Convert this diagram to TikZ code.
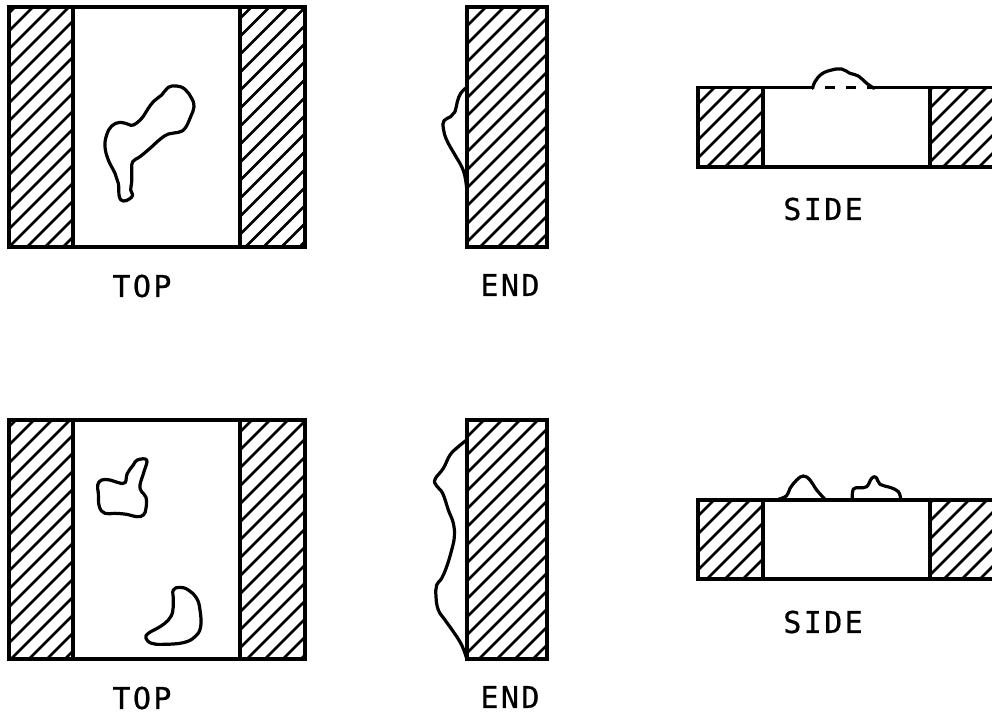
\documentclass[tikz,border=0pt]{standalone}
\usepackage{fontspec}
\newfontfamily\labelfont[LetterSpace=8,FakeBold=0.6]{DejaVu Sans Mono}
\newcommand{\hatchbox}[5]{% x0,y0,x1,y1,phase
  \begin{scope}
    \clip (#1,#2) rectangle (#3,#4);
    \foreach \k in {0,...,30}{
      \pgfmathsetmacro{\cc}{#5+18*\k}
      \draw[hatch] (#1,\cc-#1) -- (#1+400,\cc-#1-400);
    }
  \end{scope}}
\newcommand{\blockview}[8]{% x0,x1,x2,x3,ytop,ybot,phaseL,phaseR
  \hatchbox{#1}{#5}{#2}{#6}{#7}
  \hatchbox{#3}{#5}{#4}{#6}{#8}
  \draw[frame] (#1,#5) rectangle (#4,#6);
  \draw[frame] (#2,#5) -- (#2,#6);
  \draw[frame] (#3,#5) -- (#3,#6);}
\tikzset{
  frame/.style={line width=3.2pt,line join=miter},
  hatch/.style={line width=2.7pt},
  blob/.style={line width=3.2pt,line join=round,line cap=round,tension=0.7},
  viewlabel/.style={font=\labelfont\fontsize{30}{30}\selectfont,inner sep=0pt,anchor=center}
}
\begin{document}
\begin{tikzpicture}[x=1pt,y=-1pt]
\useasboundingbox (0,0) rectangle (992,715);
\fill[white] (0,0) rectangle (992,715);
% upper row
\blockview{9}{73}{240}{305}{7}{247}{22}{240.5}
\hatchbox{467}{7}{547}{247}{475}
\draw[frame] (467,7) rectangle (547,247);
\hatchbox{698}{87.5}{763}{167}{784}
\hatchbox{930}{87.5}{995}{167}{1020}
\draw[frame] (763,87.5) -- (763,167);
\draw[frame] (930,87.5) -- (930,167);
\draw[frame] (995,167) -- (698,167) -- (698,87.5) -- (812,87.5);
\draw[frame] (867,87.5) -- (995,87.5);
\draw[frame] (825,87.5) -- (835,87.5);
\draw[frame] (846,87.5) -- (856,87.5);
\begin{scope}[scale=1/3]
\draw[blob] plot[smooth cycle] coordinates {(400,375)(425,355)(445,325)(462,303)(485,285)(505,262)(530,258)(555,268)(575,295)(582,320)(572,350)(555,385)(535,397)(505,402)(480,418)(450,445)(420,470)(398,485)(395,510)(395,545)(392,570)(398,585)(388,597)(370,603)(358,590)(355,550)(345,520)(325,480)(315,440)(320,405)(335,378)(360,367)(385,373)};
\end{scope}
\begin{scope}[shift={(420,0)},scale=1/3]
\draw[blob] plot[smooth] coordinates {(140,262)(122,280)(112,305)(105,335)(92,350)(72,362)(70,385)(80,420)(105,465)(125,500)(135,530)(140,565)};
\end{scope}
\begin{scope}[shift={(690,60)},scale=1/3]
\draw[blob] plot[smooth] coordinates {(368,85)(375,65)(395,42)(425,30)(455,27)(480,40)(505,48)(530,70)(552,85)};
\end{scope}
% lower row
\blockview{9}{73}{240}{305}{420}{659}{436}{654}
\hatchbox{467}{420}{547}{659}{886}
\draw[frame] (467,420) rectangle (547,659);
\hatchbox{698}{500}{763}{579}{1196}
\hatchbox{930}{500}{995}{579}{1433}
\draw[frame] (763,500) -- (763,579);
\draw[frame] (930,500) -- (930,579);
\draw[frame] (995,579) -- (698,579) -- (698,500) -- (995,500);
\begin{scope}[shift={(0,410)},scale=1/3]
\draw[blob] plot[smooth cycle] coordinates {(375,218)(382,190)(400,165)(412,150)(440,150)(432,185)(420,225)(425,245)(438,262)(438,295)(430,315)(410,320)(380,313)(345,310)(315,310)(298,290)(295,250)(293,225)(305,210)(330,210)(355,218)};
\draw[blob] plot[smooth cycle] coordinates {(520,540)(540,532)(565,540)(590,565)(600,600)(602,650)(585,680)(550,698)(490,703)(455,700)(438,685)(445,670)(480,650)(505,630)(518,605)(520,570)};
\end{scope}
\begin{scope}[shift={(420,410)},scale=1/3]
\draw[blob] plot[smooth] coordinates {(140,90)(115,110)(90,135)(70,175)(45,208)(50,228)(68,250)(85,300)(100,340)(103,380)(95,420)(80,470)(65,505)(50,525)(48,560)(55,600)(75,630)(100,665)(125,705)(140,745)};
\end{scope}
\begin{scope}[shift={(690,465)},scale=1/3]
\draw[blob] plot[smooth] coordinates {(265,103)(290,92)(300,70)(320,45)(340,33)(360,45)(380,75)(405,103)};
\draw[blob] plot[smooth] coordinates {(487,103)(490,72)(510,68)(530,65)(545,40)(558,37)(570,58)(600,67)(625,80)(632,103)};
\end{scope}
% labels
\node[viewlabel] (top1) at (142,286) {TOP};
\node[viewlabel] (end1) at (510,285) {END};
\node[viewlabel] (side1) at (823,209) {SIDE};
\node[viewlabel] (top2) at (142,698) {TOP};
\node[viewlabel] (end2) at (510,697) {END};
\node[viewlabel] (side2) at (823,622) {SIDE};
\end{tikzpicture}
\end{document}
